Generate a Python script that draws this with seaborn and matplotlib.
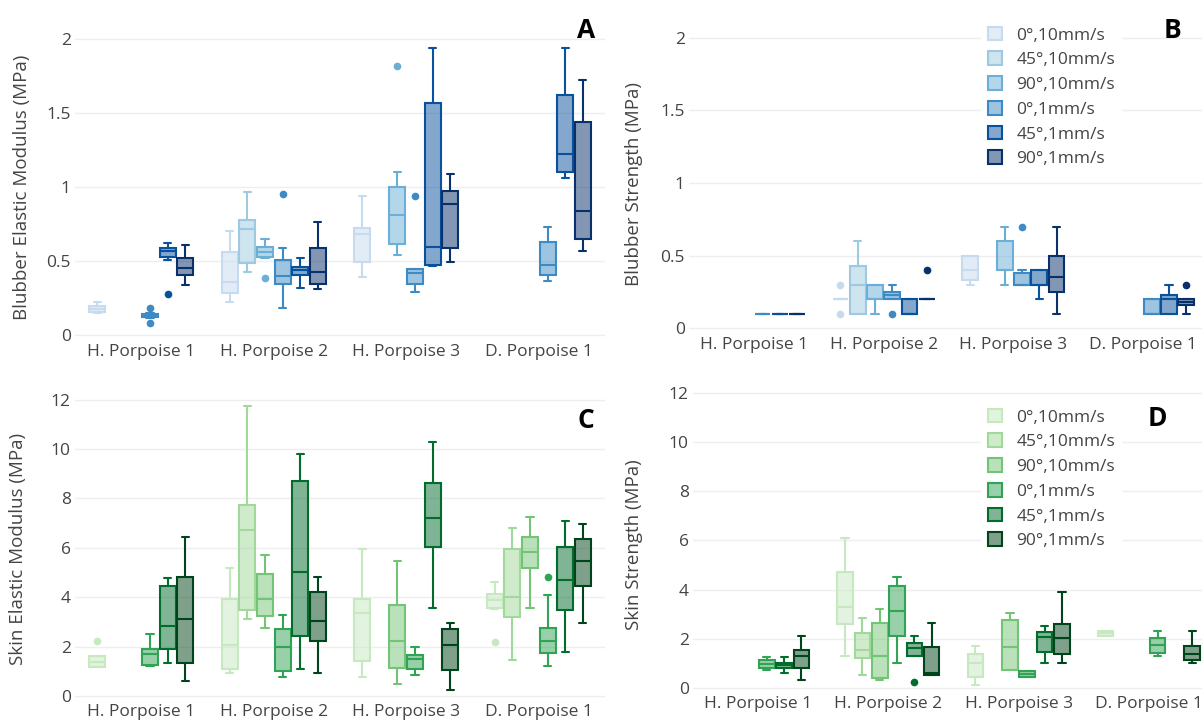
import matplotlib
matplotlib.use("Agg")
import matplotlib.pyplot as plt
from matplotlib.colors import to_rgba
from matplotlib.patches import Patch
import seaborn as sns

sns.set_theme(style="white")
plt.rcParams['font.family'] = ['Open Sans', 'DejaVu Sans']

animals = ["H. Porpoise 1", "H. Porpoise 2", "H. Porpoise 3", "D. Porpoise 1"]
conditions = ["0°,10mm/s", "45°,10mm/s", "90°,10mm/s", "0°,1mm/s", "45°,1mm/s", "90°,1mm/s"]
blues = ['#c6dbef', '#9ecae1', '#6baed6', '#3d8ac4', '#08519c', '#08306b']
greens = ['#c7e9c0', '#a1d99b', '#74c476', '#31a354', '#006d2c', '#00441b']

# rows: (animal, condition, whisker low, q1, median, q3, whisker high, outliers)
blubber_modulus = [
    (0, 0, 0.15, 0.155, 0.175, 0.195, 0.22, []),
    (0, 3, 0.115, 0.12, 0.13, 0.14, 0.15, [0.18, 0.08]),
    (0, 4, 0.51, 0.53, 0.565, 0.59, 0.62, [0.28]),
    (0, 5, 0.34, 0.405, 0.455, 0.52, 0.61, []),
    (1, 0, 0.225, 0.286, 0.36, 0.563, 0.705, []),
    (1, 1, 0.428, 0.484, 0.714, 0.777, 0.968, []),
    (1, 2, 0.52, 0.525, 0.563, 0.597, 0.646, [0.387]),
    (1, 3, 0.18, 0.342, 0.40, 0.507, 0.586, [0.95]),
    (1, 4, 0.315, 0.405, 0.44, 0.462, 0.518, []),
    (1, 5, 0.308, 0.342, 0.428, 0.586, 0.766, []),
    (2, 0, 0.394, 0.49, 0.68, 0.72, 0.94, []),
    (2, 2, 0.54, 0.615, 0.81, 1.0, 1.10, [1.82]),
    (2, 3, 0.29, 0.345, 0.417, 0.444, 0.444, [0.94]),
    (2, 4, 0.466, 0.473, 0.597, 1.57, 1.94, []),
    (2, 5, 0.49, 0.586, 0.885, 0.973, 1.09, []),
    (3, 3, 0.365, 0.403, 0.473, 0.628, 0.727, []),
    (3, 4, 1.06, 1.10, 1.22, 1.62, 1.94, []),
    (3, 5, 0.568, 0.646, 0.838, 1.44, 1.72, []),
]

blubber_strength = [
    (0, 3, 0.1, 0.1, 0.1, 0.1, 0.1, []),
    (0, 4, 0.1, 0.1, 0.1, 0.1, 0.1, []),
    (0, 5, 0.1, 0.1, 0.1, 0.1, 0.1, []),
    (1, 0, 0.2, 0.2, 0.2, 0.2, 0.2, [0.3, 0.1]),
    (1, 1, 0.1, 0.1, 0.3, 0.43, 0.6, []),
    (1, 2, 0.1, 0.2, 0.2, 0.3, 0.3, []),
    (1, 3, 0.2, 0.2, 0.23, 0.25, 0.3, [0.1]),
    (1, 4, 0.1, 0.1, 0.1, 0.2, 0.2, []),
    (1, 5, 0.2, 0.2, 0.2, 0.2, 0.2, [0.4]),
    (2, 0, 0.3, 0.33, 0.4, 0.5, 0.5, []),
    (2, 2, 0.3, 0.4, 0.4, 0.6, 0.7, []),
    (2, 3, 0.3, 0.3, 0.3, 0.38, 0.4, [0.7]),
    (2, 4, 0.2, 0.3, 0.3, 0.4, 0.4, []),
    (2, 5, 0.1, 0.25, 0.35, 0.5, 0.7, []),
    (3, 3, 0.1, 0.1, 0.1, 0.2, 0.2, []),
    (3, 4, 0.1, 0.1, 0.2, 0.23, 0.3, []),
    (3, 5, 0.1, 0.16, 0.18, 0.2, 0.2, [0.3]),
]

skin_modulus = [
    (0, 0, 1.19, 1.19, 1.39, 1.62, 1.62, [2.24]),
    (0, 3, 1.21, 1.255, 1.70, 1.89, 2.51, []),
    (0, 4, 1.32, 1.89, 2.83, 4.47, 4.76, []),
    (0, 5, 0.61, 1.32, 3.10, 4.81, 6.45, []),
    (1, 0, 0.92, 1.09, 2.06, 3.94, 5.17, []),
    (1, 1, 3.1, 3.48, 6.72, 7.73, 11.75, []),
    (1, 2, 2.74, 3.24, 3.91, 4.94, 5.69, []),
    (1, 3, 0.76, 1.01, 2.0, 2.71, 3.28, []),
    (1, 4, 1.09, 2.43, 5.01, 8.72, 9.8, []),
    (1, 5, 0.92, 2.24, 3.04, 4.22, 4.81, []),
    (2, 0, 0.78, 1.42, 3.37, 3.94, 5.94, []),
    (2, 2, 0.47, 1.15, 2.24, 3.70, 5.47, []),
    (2, 3, 0.85, 1.09, 1.49, 1.66, 2.0, []),
    (2, 4, 3.55, 6.05, 7.22, 8.61, 10.27, []),
    (2, 5, 0.24, 1.05, 2.06, 2.70, 2.94, []),
    (3, 0, 3.51, 3.55, 3.89, 4.13, 4.62, [2.17]),
    (3, 1, 1.46, 3.21, 4.0, 5.95, 6.79, []),
    (3, 2, 3.55, 5.17, 5.84, 6.43, 7.23, []),
    (3, 3, 1.21, 1.75, 2.24, 2.74, 4.08, [4.81]),
    (3, 4, 1.79, 3.48, 4.70, 6.02, 7.10, []),
    (3, 5, 2.94, 4.45, 5.47, 6.34, 6.96, []),
]

skin_strength = [
    (0, 3, 0.73, 0.80, 0.98, 1.14, 1.25, []),
    (0, 4, 0.62, 0.80, 0.93, 1.03, 1.25, []),
    (0, 5, 0.33, 0.80, 1.31, 1.54, 2.11, []),
    (1, 0, 1.31, 2.60, 3.28, 4.72, 6.09, []),
    (1, 1, 0.53, 1.21, 1.54, 2.22, 2.83, []),
    (1, 2, 0.33, 0.39, 1.31, 2.65, 3.21, []),
    (1, 3, 1.03, 2.13, 3.14, 4.15, 4.50, []),
    (1, 4, 1.31, 1.31, 1.61, 1.82, 2.11, [0.23]),
    (1, 5, 0.53, 0.55, 0.60, 1.68, 2.63, []),
    (2, 0, 0.12, 0.46, 1.03, 1.37, 1.71, []),
    (2, 2, 0.73, 0.73, 1.68, 2.76, 3.04, []),
    (2, 3, 0.46, 0.46, 0.57, 0.69, 0.69, []),
    (2, 4, 1.03, 1.45, 2.08, 2.26, 2.52, []),
    (2, 5, 1.03, 1.37, 2.04, 2.60, 3.91, []),
    (3, 0, 2.11, 2.11, 2.22, 2.32, 2.32, []),
    (3, 3, 1.31, 1.43, 1.75, 2.02, 2.33, []),
    (3, 5, 1.03, 1.14, 1.38, 1.71, 2.33, []),
]

W, H = 1202, 721
fig = plt.figure(figsize=(W / 100, H / 100), dpi=100)


def add_axes(left, right, top, bottom):
    return fig.add_axes([left / W, 1 - bottom / H, (right - left) / W, (bottom - top) / H])


def draw_panel(ax, rows, colors, ylim, yticks, yticklabels, ylabel, label_x, label_y):
    for k, color in enumerate(colors):
        stats, pos = [], []
        for a, c, lo, q1, med, q3, hi, fl in rows:
            if c != k:
                continue
            stats.append(dict(whislo=lo, q1=q1, med=med, q3=q3, whishi=hi, fliers=fl))
            pos.append(a + (k - 2.5) * 0.133)
        if not stats:
            continue
        ax.bxp(stats, positions=pos, widths=0.12, capwidths=0.055, patch_artist=True,
               manage_ticks=False, showfliers=True,
               boxprops=dict(facecolor=to_rgba(color, 0.5), edgecolor=color, linewidth=1.5),
               medianprops=dict(color=color, linewidth=1.5),
               whiskerprops=dict(color=color, linewidth=1.5),
               capprops=dict(color=color, linewidth=1.5),
               flierprops=dict(marker='o', markerfacecolor=color, markeredgecolor=color,
                               markersize=4.5))
    ax.set_xlim(-0.5, 3.5)
    ax.set_ylim(*ylim)
    ax.set_xticks(range(len(animals)))
    ax.set_xticklabels(animals)
    ax.set_yticks(yticks)
    ax.set_yticklabels(yticklabels)
    ax.grid(axis='y', color='#eeeeee', linewidth=1)
    ax.grid(axis='x', visible=False)
    ax.set_axisbelow(True)
    ax.tick_params(length=0, labelsize=12.5, colors='#444444', pad=3)
    ax.set_ylabel(ylabel, fontsize=13.5, color='#444444')
    ax.yaxis.set_label_coords(label_x, label_y)
    sns.despine(ax=ax, left=True, bottom=True)


axA = add_axes(75, 605, 22, 340)
draw_panel(axA, blubber_modulus, blues, (-0.034, 2.115), [0, 0.5, 1, 1.5, 2],
           ["0", "0.5", "1", "1.5", "2"], "Blubber Elastic Modulus (MPa)", -0.083, 0.48)
axB = add_axes(689, 1208, 22, 333)
draw_panel(axB, blubber_strength, blues, (-0.034, 2.11), [0, 0.5, 1, 1.5, 2],
           ["0", "0.5", "1", "1.5", "2"], "Blubber Strength (MPa)", -0.089, 0.48)
axC = add_axes(75, 605, 385, 700)
draw_panel(axC, skin_modulus, greens, (-0.16, 12.59), list(range(0, 13, 2)),
           [str(v) for v in range(0, 13, 2)], "Skin Elastic Modulus (MPa)", -0.091, 0.48)
axD = add_axes(693, 1214, 385, 692)
draw_panel(axD, skin_strength, greens, (-0.16, 12.32), list(range(0, 13, 2)),
           [str(v) for v in range(0, 13, 2)], "Skin Strength (MPa)", -0.096, 0.48)

for ax, colors, top in [(axB, blues, 11), (axD, greens, 393)]:
    handles = [Patch(facecolor=to_rgba(c, 0.5), edgecolor=c, linewidth=1.5) for c in colors]
    leg = ax.legend(handles, conditions, loc='upper left',
                    bbox_to_anchor=(972 / W, 1 - top / H), bbox_transform=fig.transFigure,
                    fontsize=12.5, frameon=True, framealpha=1, edgecolor='none',
                    facecolor='white', fancybox=False, handlelength=0.85, handleheight=0.85,
                    handletextpad=0.8, labelspacing=0.45, borderpad=0.4)
    for t in leg.get_texts():
        t.set_color('#444444')

for letter, x, y in [("A", 586, 30), ("B", 1172, 30), ("C", 586, 420), ("D", 1157, 418)]:
    fig.text(x / W, 1 - y / H, letter, fontsize=19, fontweight='bold', color='black',
             ha='center', va='center')

fig.savefig("out.png", dpi=100)
